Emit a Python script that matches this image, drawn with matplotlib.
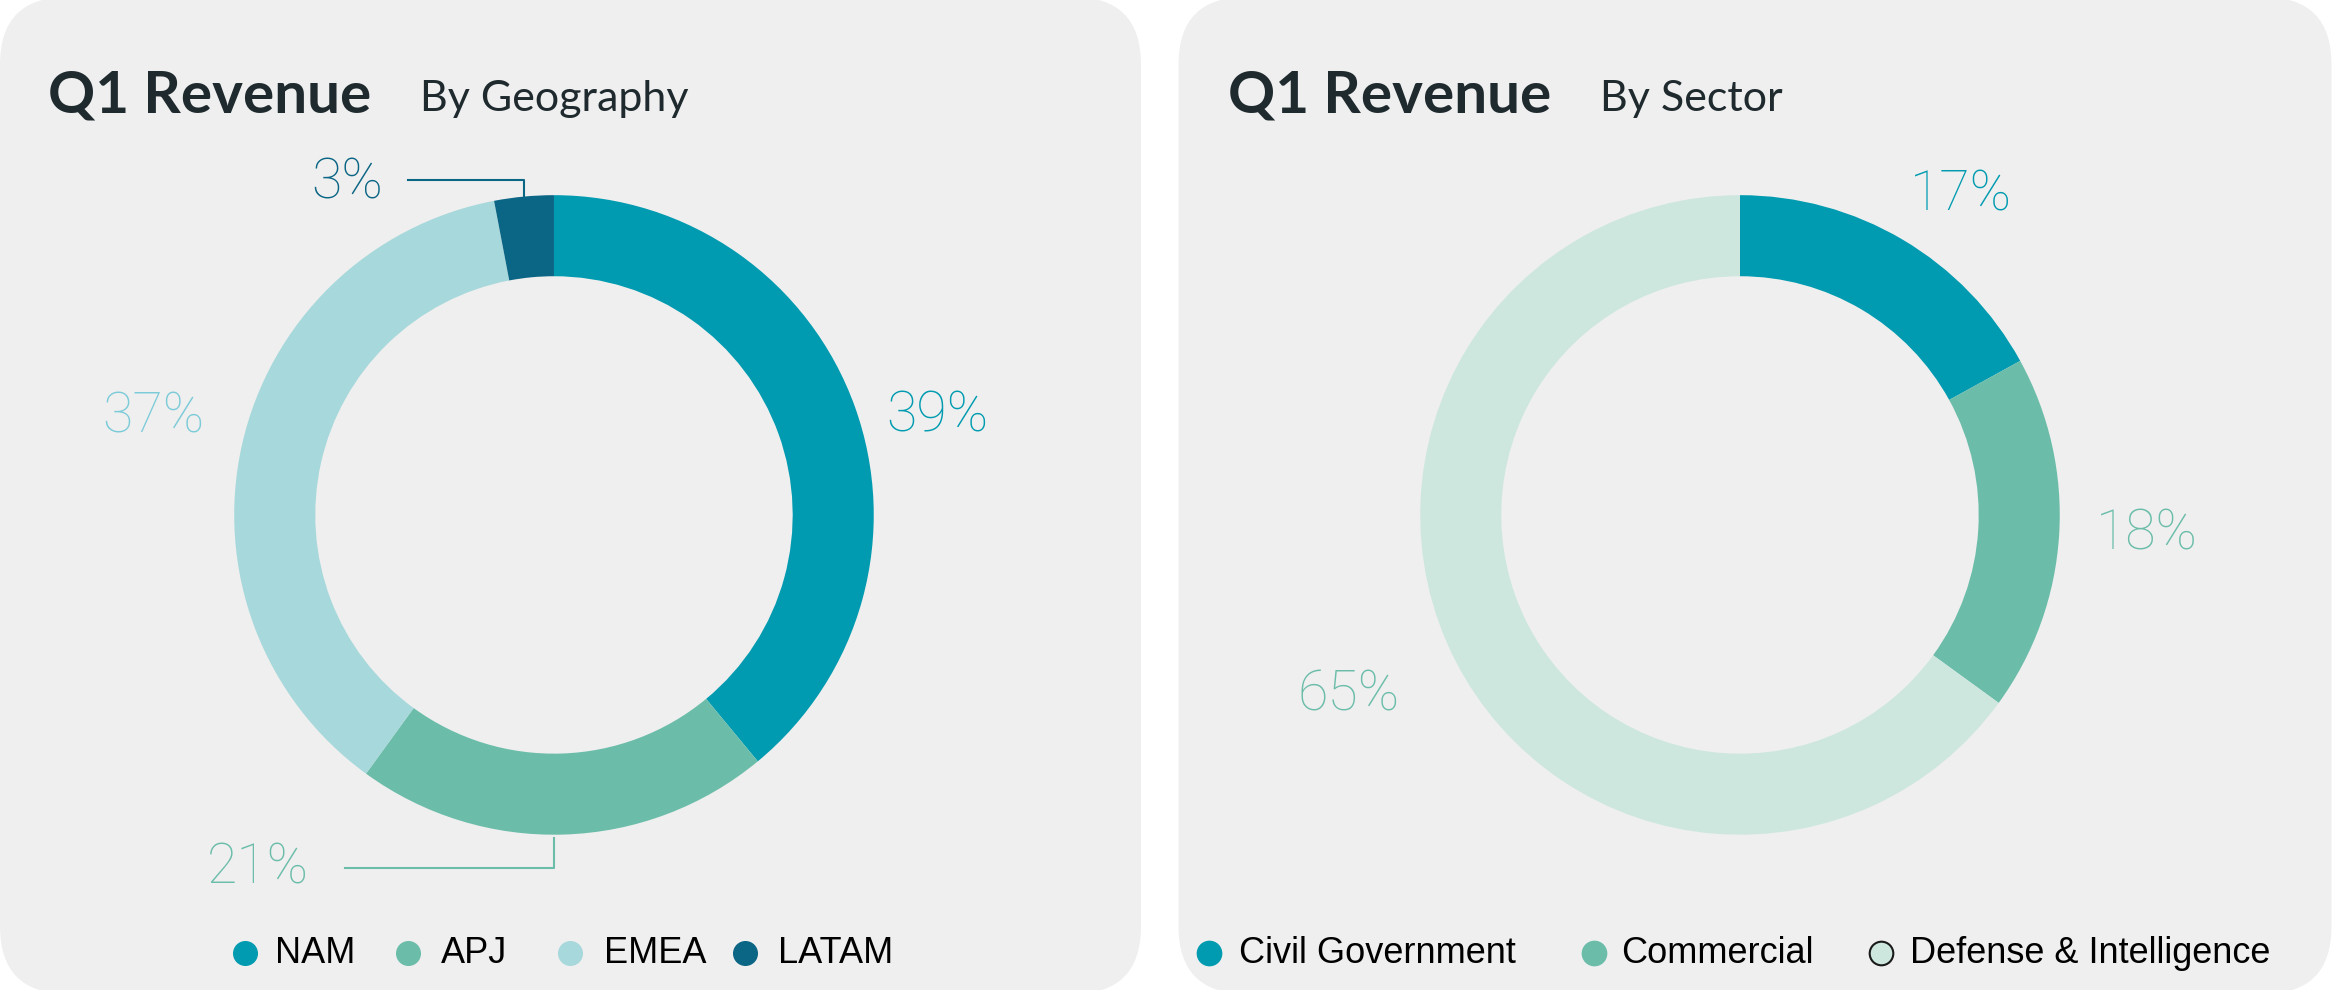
import matplotlib.pyplot as plt
from matplotlib.patches import FancyBboxPatch
from matplotlib.lines import Line2D

# data
geo_labels = ["NAM", "APJ", "EMEA", "LATAM"]
geo_values = [39, 21, 37, 3]
geo_colors = ["#009bb0", "#6bbdaa", "#a7d8db", "#0b6584"]
geo_text_colors = ["#009bb0", "#6bbdaa", "#7ccbd8", "#0b6584"]

sec_labels = ["Civil Government", "Commercial", "Defense & Intelligence"]
sec_values = [17, 18, 65]
sec_colors = ["#009bb0", "#6bbdaa", "#cde7df"]
sec_text_colors = ["#009bb0", "#6bbdaa", "#6bbdaa"]

W, H = 1556, 990 / (2336 / 1556)
def Y(y):
    return H - y

fig = plt.figure(figsize=(23.36, 9.9), dpi=100)
ax = fig.add_axes([0, 0, 1, 1])
ax.axis("off")

# panels
for x0, x1 in [(0, 760), (785, 1553)]:
    ax.add_patch(FancyBboxPatch((x0, Y(662)), x1 - x0, 664, boxstyle="round,pad=0,rounding_size=45",
                                fc="#efefef", ec="none", zorder=0))

title_font = "Lato"
lab_kw = dict(fontsize=40, fontfamily="Roboto", fontweight="light", va="center")

def donut(cx, values, colors):
    ax.pie(values, colors=colors, center=(cx, Y(343)), radius=213, startangle=90,
           counterclock=False, wedgeprops=dict(width=54, edgecolor="none"), frame=True)

# left
ax.text(32, Y(64), "Q1 Revenue", fontsize=42, fontweight="bold", fontfamily=title_font, color="#1f2a2e", va="center")
ax.text(280, Y(66), "By Geography", fontsize=31, fontfamily=title_font, color="#1f2a2e", va="center")
donut(369, geo_values, geo_colors)
ax.text(590, Y(277), f"{geo_values[0]}%", color=geo_text_colors[0], **lab_kw)
ax.text(68, Y(278), f"{geo_values[2]}%", color=geo_text_colors[2], **lab_kw)
ax.text(138, Y(578), f"{geo_values[1]}%", color=geo_text_colors[1], **lab_kw)
ax.text(207, Y(122), f"{geo_values[3]}%", color=geo_text_colors[3], **lab_kw)
ax.plot([230, 369, 369], [Y(578), Y(578), Y(558)], color=geo_colors[1], lw=1.5)
ax.plot([272, 349, 349], [Y(120), Y(120), Y(133)], color=geo_colors[3], lw=1.5)

# right
ax.text(818, Y(64), "Q1 Revenue", fontsize=42, fontweight="bold", fontfamily=title_font, color="#1f2a2e", va="center")
ax.text(1066, Y(66), "By Sector", fontsize=31, fontfamily=title_font, color="#1f2a2e", va="center")
donut(1159, sec_values, sec_colors)
ax.text(1272, Y(130), f"{sec_values[0]}%", color=sec_text_colors[0], **lab_kw)
ax.text(1396, Y(356), f"{sec_values[1]}%", color=sec_text_colors[1], **lab_kw)
ax.text(864, Y(463), f"{sec_values[2]}%", color=sec_text_colors[2], **lab_kw)

# legends
leg_kw = dict(fontsize=26, fontfamily="Liberation Sans", color="black", va="center")
for mx, tx, lab, c in zip([163, 272, 380, 496], [183, 294, 402, 518], geo_labels, geo_colors):
    ax.plot(mx, Y(635), "o", ms=17, color=c, mec=c)
    ax.text(tx, Y(635), lab, **leg_kw)
for i, (mx, tx, lab, c) in enumerate(zip([805, 1062, 1253], [825, 1080, 1272], sec_labels, sec_colors)):
    ax.plot(mx, Y(635), "o", ms=17, color=c, mec="#1a1a1a" if i == 2 else c, mew=1.5)
    ax.text(tx, Y(635), lab, **leg_kw)

ax.set_xlim(0, W)
ax.set_ylim(0, H)
ax.set_aspect("auto")
ax.axis("off")
fig.savefig("out.png", dpi=100, facecolor="white")
